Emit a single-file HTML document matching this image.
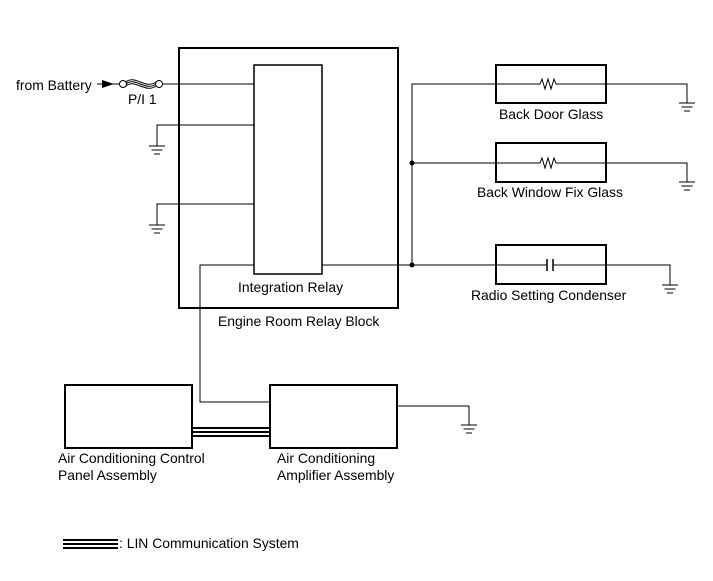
<!DOCTYPE html>
<html><head><style>body{margin:0;background:#fff}svg{display:block}text{font-family:"Liberation Sans",Arial,sans-serif;font-size:13.9px;fill:#000}</style></head>
<body>
<svg width="713" height="581" viewBox="0 0 713 581" xmlns="http://www.w3.org/2000/svg">
<defs>
<g id="gnd" stroke="#000" stroke-width="1"><line x1="-8" y1="0" x2="8" y2="0"/><line x1="-5.5" y1="4" x2="5.5" y2="4"/><line x1="-3" y1="8" x2="3" y2="8"/></g>
</defs>
<g fill="none" stroke="#000">
<rect x="179" y="48" width="219" height="260" stroke-width="2"/>
<rect x="254" y="65" width="68" height="209" stroke-width="1.5"/>
<rect x="496" y="65" width="110" height="38" stroke-width="2"/>
<rect x="496" y="143" width="110" height="39" stroke-width="2"/>
<rect x="496" y="245" width="110" height="39" stroke-width="2"/>
<rect x="65" y="385" width="127" height="63" stroke-width="2"/>
<rect x="270" y="385" width="127" height="63" stroke-width="2"/>
<g stroke-width="1">
<line x1="97" y1="84" x2="119" y2="84"/>
<circle cx="123" cy="84" r="3.5"/><circle cx="159" cy="84" r="3.5"/>
<path d="M126 84 C135 76,145 92,156 84 M126 82 C135 74,145 90,156 82 M126 86 C135 78,145 94,156 86"/>
<line x1="162.5" y1="84" x2="254" y2="84"/>
<polyline points="254,125 157,125 157,146"/>
<polyline points="254,204 157,204 157,225"/>
<polyline points="254,265 200,265 200,402 270,402"/>
<line x1="322" y1="265" x2="496" y2="265"/>
<polyline points="496,84 412,84 412,265"/>
<line x1="412" y1="163" x2="496" y2="163"/>
<path d="M496 84 H540 l2,-5 l3,10 l3,-10 l3,10 l3,-10 l2,5 H606"/>
<path d="M496 163 H540 l2,-5 l3,10 l3,-10 l3,10 l3,-10 l2,5 H606"/>
<path d="M496 265 H547 M553 265 H606"/>
<line x1="547" y1="259" x2="547" y2="271" stroke-width="1.5"/><line x1="553" y1="259" x2="553" y2="271" stroke-width="1.5"/>
<polyline points="606,84 687,84 687,103"/>
<polyline points="606,163 687,163 687,182"/>
<polyline points="606,265 670,265 670,285"/>
<polyline points="397,406 469,406 469,425"/>
</g>
<g stroke-width="2"><line x1="192" y1="428" x2="270" y2="428"/><line x1="192" y1="432" x2="270" y2="432"/><line x1="192" y1="436" x2="270" y2="436"/>
<line x1="63" y1="540" x2="118" y2="540"/><line x1="63" y1="544" x2="118" y2="544"/><line x1="63" y1="548" x2="118" y2="548"/></g>
</g>
<path d="M102 80 L114 84 L102 88 Z" fill="#000"/>
<circle cx="412" cy="163" r="2.5"/><circle cx="412" cy="265" r="2.5"/>
<use href="#gnd" x="157" y="146"/><use href="#gnd" x="157" y="225"/>
<use href="#gnd" x="687" y="103"/><use href="#gnd" x="687" y="182"/>
<use href="#gnd" x="670" y="285"/><use href="#gnd" x="469" y="425"/>
<text x="16" y="90">from Battery</text>
<text x="128" y="104">P/I 1</text>
<text x="238" y="292">Integration Relay</text>
<text x="218" y="326">Engine Room Relay Block</text>
<text x="499" y="119">Back Door Glass</text>
<text x="477" y="197">Back Window Fix Glass</text>
<text x="471" y="300">Radio Setting Condenser</text>
<text x="58" y="463">Air Conditioning Control</text>
<text x="58" y="480">Panel Assembly</text>
<text x="277" y="463">Air Conditioning</text>
<text x="277" y="480">Amplifier Assembly</text>
<text x="119" y="548">: LIN Communication System</text>
</svg>
</body></html>
